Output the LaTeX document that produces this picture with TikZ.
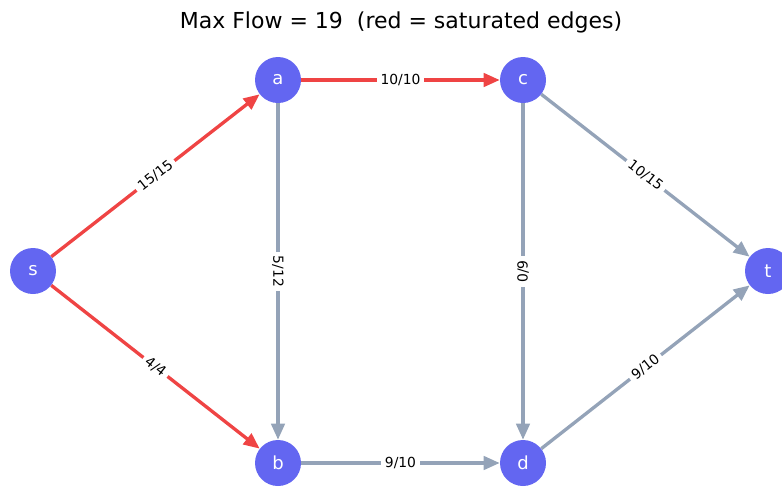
\documentclass[tikz,border=0pt]{standalone}
\usepackage{fontspec}
\setmainfont{DejaVu Sans}
\usetikzlibrary{arrows.meta}
\definecolor{FNode}{HTML}{6366F1}
\definecolor{FSat}{HTML}{EF4444}
\definecolor{FEdge}{HTML}{94A3B8}

\begin{document}
\begin{tikzpicture}[x=0.75pt,y=-0.75pt,
  vert/.style={circle,fill=FNode,minimum size=34.5pt,inner sep=0pt,text=white,font=\fontsize{13.5}{16}\selectfont},
  flow/.style={line width=2.5pt,-{Triangle[length=12pt,width=10pt]}},
  sat/.style={flow,draw=FSat},
  free/.style={flow,draw=FEdge},
  elabel/.style={fill=white,text=black,inner sep=3pt,font=\fontsize{10.4}{12}\selectfont}]
\useasboundingbox (0,0) rectangle (782,486);
\clip (0,0) rectangle (782,486);
\node[font=\fontsize{16.5}{20}\selectfont] (title) at (401,22) {Max Flow = 19\ \ (red = saturated edges)};
% vertices
\node[vert] (s) at (33,271) {s};
\node[vert] (a) at (278,80) {a};
\node[vert] (b) at (278,463) {b};
\node[vert] (c) at (523,80) {c};
\node[vert] (d) at (523,463) {d};
\node[vert] (t) at (768,271) {t};
% edges: flow/capacity
\draw[sat] (s) -- node[elabel,sloped] {15/15} (a);
\draw[sat] (s) -- node[elabel,sloped] {4/4} (b);
\draw[sat] (a) -- node[elabel] {10/10} (c);
\draw[free] (a) -- node[elabel,sloped] {5/12} (b);
\draw[free] (b) -- node[elabel] {9/10} (d);
\draw[free] (c) -- node[elabel,rotate=90] {0/9} (d);
\draw[free] (c) -- node[elabel,sloped] {10/15} (t);
\draw[free] (d) -- node[elabel,sloped] {9/10} (t);
\end{tikzpicture}
\end{document}
